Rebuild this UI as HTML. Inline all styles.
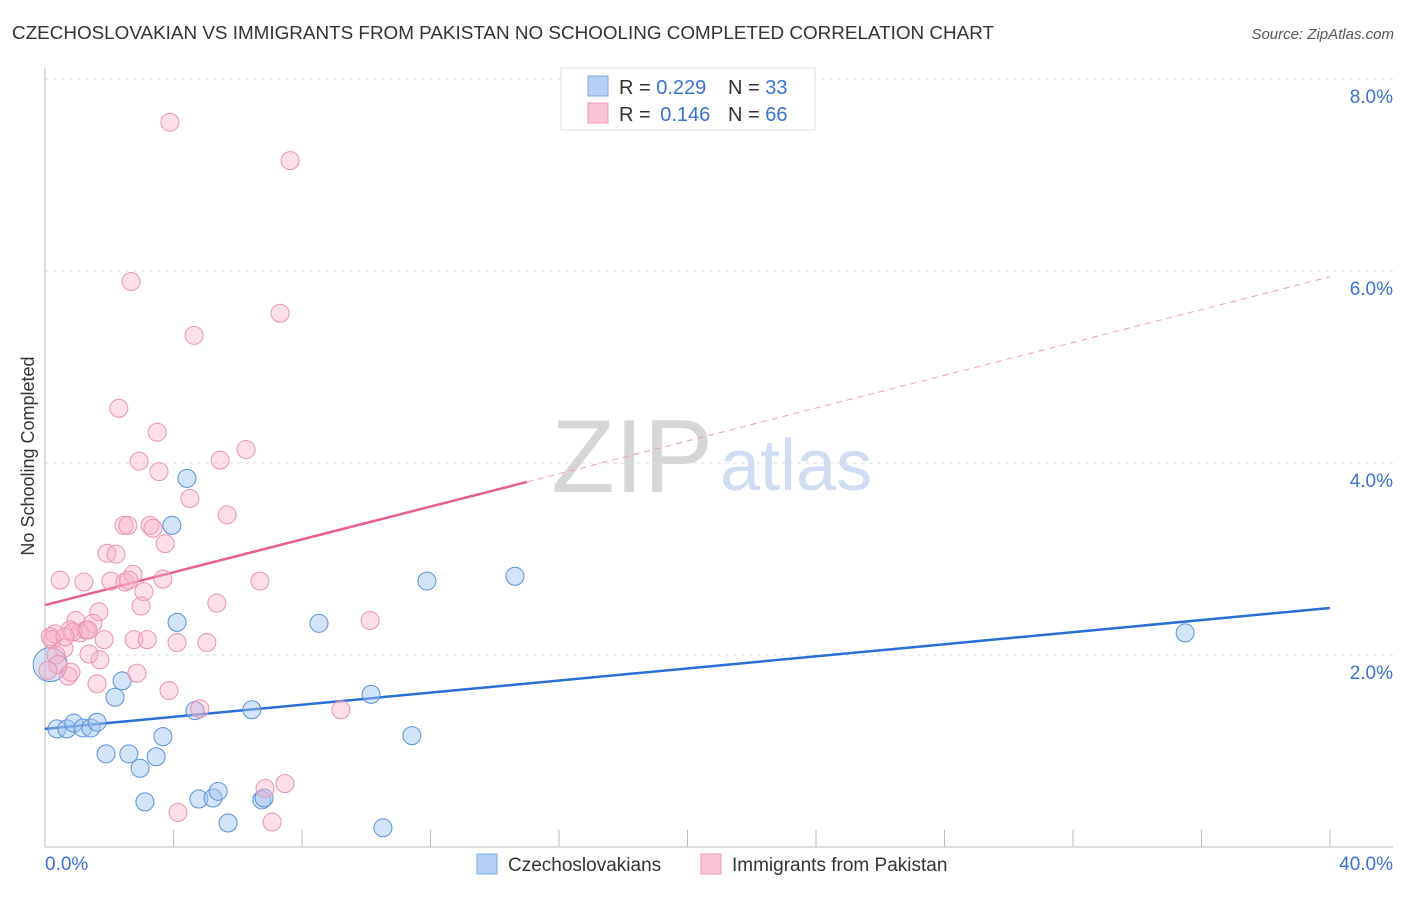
<!DOCTYPE html>
<html><head><meta charset="utf-8"><style>
body{margin:0;background:#fff;font-family:"Liberation Sans",sans-serif;}
svg text{font-family:"Liberation Sans",sans-serif;}
</style></head><body>
<svg id="chart" width="1406" height="892" xmlns="http://www.w3.org/2000/svg">
<text x="12" y="39" font-size="18.9" fill="#333" textLength="982" lengthAdjust="spacingAndGlyphs">CZECHOSLOVAKIAN VS IMMIGRANTS FROM PAKISTAN NO SCHOOLING COMPLETED CORRELATION CHART</text>
<text x="1394" y="39" font-size="15" fill="#555" text-anchor="end" font-style="italic">Source: ZipAtlas.com</text>
<text transform="translate(34,456) rotate(-90)" font-size="18" fill="#333" text-anchor="middle">No Schooling Completed</text>
<g>
<text x="713" y="492" font-size="104" font-family="Liberation Serif" fill="#d6d6d6" text-anchor="end">ZIP</text>
<text x="720" y="490" font-size="72" fill="#cfdcf2">atlas</text>
</g>
<g id="grid"></g><g id="axes"></g><g id="trends"></g><g id="pts"></g>
<g>
<rect x="561" y="68" width="254" height="62" fill="#fff" stroke="#ddd"/>
<rect x="588" y="76" width="20" height="20" fill="#b5d0f3" stroke="#7fa8e0"/>
<rect x="588" y="103" width="20" height="20" fill="#f9c4d4" stroke="#ee9ab5"/>
<text x="619" y="94" font-size="20" fill="#333">R = <tspan fill="#3a72d0">0.229</tspan></text>
<text x="728" y="94" font-size="20" fill="#333">N = <tspan fill="#3a72d0">33</tspan></text>
<text x="619" y="121" font-size="20" fill="#333">R = <tspan fill="#3a72d0" dx="4">0.146</tspan></text>
<text x="728" y="121" font-size="20" fill="#333">N = <tspan fill="#3a72d0">66</tspan></text>
</g>
<g>
<rect x="477" y="854" width="20" height="20" fill="#b5d0f3" stroke="#7fa8e0"/>
<text x="508" y="871" font-size="19" fill="#333">Czechoslovakians</text>
<rect x="701" y="854" width="20" height="20" fill="#f9c4d4" stroke="#ee9ab5"/>
<text x="732" y="871" font-size="19" fill="#333">Immigrants from Pakistan</text>
</g>
</svg>
<script>
const xTicks=[0,40];
const yTicks=[2,4,6,8];
const czechX=[0.16,0.37,0.68,0.90,1.18,1.43,1.62,2.18,2.40,1.90,2.61,2.96,3.46,3.67,3.11,4.11,3.95,4.42,4.67,4.79,5.23,5.39,5.70,6.44,6.75,6.82,8.53,10.15,10.52,11.42,11.89,14.63,35.49];
const czechY=[1.90,1.23,1.23,1.29,1.24,1.24,1.30,1.56,1.73,0.97,0.97,0.82,0.94,1.15,0.47,2.34,3.35,3.84,1.42,0.50,0.51,0.58,0.25,1.43,0.49,0.51,2.33,1.59,0.20,1.16,2.77,2.82,2.23];
const pakX=[3.89,7.63,2.68,7.32,4.64,2.30,3.49,2.93,5.45,6.26,3.55,4.51,5.67,2.46,2.58,3.27,3.36,3.74,1.93,2.21,0.47,1.21,2.05,2.49,2.74,2.61,3.67,6.69,3.08,2.99,5.35,1.68,1.49,0.96,0.78,0.31,0.22,1.09,1.28,0.87,1.34,1.84,2.77,3.18,4.11,5.04,10.12,0.59,1.71,1.37,0.34,0.40,0.72,1.62,2.86,3.86,4.82,9.21,6.85,7.47,4.14,7.07,0.09,0.16,0.62,0.81];
const pakY=[7.55,7.15,5.89,5.56,5.33,4.57,4.32,4.02,4.03,4.14,3.91,3.63,3.46,3.35,3.35,3.35,3.32,3.16,3.06,3.05,2.78,2.76,2.77,2.76,2.84,2.78,2.79,2.77,2.66,2.51,2.54,2.45,2.33,2.36,2.26,2.22,2.16,2.23,2.26,2.24,2.26,2.16,2.16,2.16,2.13,2.13,2.36,2.07,1.95,2.01,2.00,1.90,1.78,1.70,1.81,1.63,1.44,1.43,0.61,0.66,0.36,0.26,1.84,2.19,2.19,1.82];
const czechTrend=[1.23,2.49];
const pakTrend=[2.52,5.94];
const pakSolidEnd=15;
const NS="http://www.w3.org/2000/svg";
const X=v=>45+v/40*1285, Y=v=>847-v*96;
function mk(t,a,p){const e=document.createElementNS(NS,t);for(const k in a)e.setAttribute(k,a[k]);p.appendChild(e);return e;}
const grid=document.getElementById('grid'),axes=document.getElementById('axes'),tr=document.getElementById('trends'),pts=document.getElementById('pts');
yTicks.forEach(v=>{
const l=mk('line',{x1:45,x2:1393,y1:Y(v),y2:Y(v),stroke:'#ddd','stroke-dasharray':'4,4'},grid);


const t=mk('text',{x:1393,y:Y(v)+24,'font-size':19,fill:'#3a72d0','text-anchor':'end'},grid);
t.textContent=v.toFixed(1)+'%';


});
const ax=mk('line',{x1:45,x2:45,y1:68,y2:847,stroke:'#bbb'},axes);


const bx=mk('line',{x1:45,x2:1393,y1:847,y2:847,stroke:'#bbb'},axes);


for(let i=1;i<=10;i++){const tk=mk('line',{x1:X(i*4),x2:X(i*4),y1:830,y2:847,stroke:'#bbb'},axes);

}
xTicks.forEach((v,i)=>{const t=mk('text',{x:i?1393:45,y:870,'font-size':19,fill:'#3a72d0','text-anchor':i?'end':'start'},axes);
t.textContent=v.toFixed(1)+'%';

});
const cl=mk('line',{x1:X(0),y1:Y(czechTrend[0]),x2:X(40),y2:Y(czechTrend[1]),stroke:'#2a6fd6','stroke-width':2.5},tr);


const pm=pakTrend[0]+(pakTrend[1]-pakTrend[0])*pakSolidEnd/40;
const pl=mk('line',{x1:X(0),y1:Y(pakTrend[0]),x2:X(pakSolidEnd),y2:Y(pm),stroke:'#e8608a','stroke-width':2.5},tr);


const pd=mk('line',{x1:X(pakSolidEnd),y1:Y(pm),x2:X(40),y2:Y(pakTrend[1]),stroke:'#e8a0b8','stroke-width':1,'stroke-dasharray':'6,5'},tr);


czechX.forEach((x,i)=>{const c=mk('circle',{cx:X(x),cy:Y(czechY[i]),r:i===0?17:9,fill:'rgba(160,196,240,0.45)',stroke:'#5b8fd8','stroke-width':1},pts);

});
pakX.forEach((x,i)=>{const c=mk('circle',{cx:X(x),cy:Y(pakY[i]),r:9,fill:'rgba(247,175,200,0.4)',stroke:'#ea93b0','stroke-width':1},pts);

});
</script>
</body></html>
